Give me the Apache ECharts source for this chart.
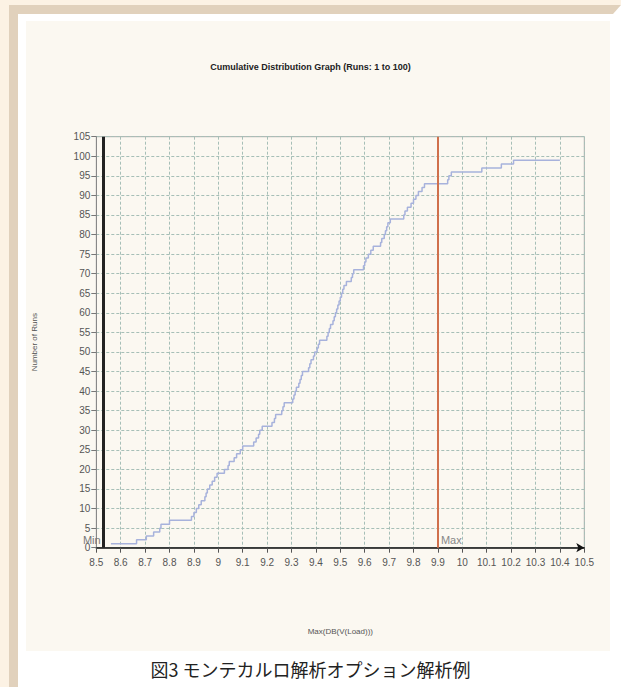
<!DOCTYPE html>
<html>
<head>
<meta charset="utf-8">
<script src="https://cdn.jsdelivr.net/npm/echarts@6/dist/echarts.min.js"></script>
<style>
  html, body { margin: 0; padding: 0; background: #ffffff; }
  #page { position: relative; width: 621px; height: 687px; overflow: hidden; }
  .cream-top { position: absolute; left: 0; top: 0; width: 621px; height: 5px; background: #fcf2e4; }
  .cream-left { position: absolute; left: 0; top: 0; width: 9px; height: 687px; background: #fcf2e4; }
  .band-top { position: absolute; left: 9px; top: 5px; width: 612px; height: 9px; background: #e1d1bc;
              clip-path: polygon(0 0, 100% 0, calc(100% - 8px) 100%, 0 100%); }
  .band-left { position: absolute; left: 9px; top: 5px; width: 9px; height: 682px; background: #e1d1bc; }
  .panel { position: absolute; left: 26px; top: 21px; width: 584px; height: 630px; background: #fbf8f1; }
  #chart { position: absolute; left: 0; top: 0; width: 621px; height: 687px; }
</style>
</head>
<body>
<div id="page">
  <div class="cream-top"></div>
  <div class="cream-left"></div>
  <div class="band-top"></div>
  <div class="band-left"></div>
  <div class="panel"></div>
  <div id="chart"></div>
</div>
<script>
// step points of the cumulative curve: value where the count jumps, count after the jump
var runValues = [
  8.56, 8.665, 8.705, 8.735, 8.76, 8.765, 8.80, 8.89, 8.90, 8.91,
  8.92, 8.93, 8.945, 8.95, 8.955, 8.965, 8.975, 8.985, 8.995, 9.025,
  9.04, 9.045, 9.065, 9.075, 9.09, 9.10, 9.145, 9.155, 9.165, 9.17,
  9.18, 9.22, 9.23, 9.235, 9.26, 9.265, 9.27, 9.305, 9.31, 9.315,
  9.32, 9.33, 9.335, 9.34, 9.345, 9.37, 9.375, 9.38, 9.39, 9.395,
  9.405, 9.41, 9.415, 9.445, 9.45, 9.455, 9.46, 9.47, 9.475, 9.48,
  9.485, 9.49, 9.495, 9.50, 9.505, 9.51, 9.515, 9.525, 9.545, 9.55,
  9.555, 9.595, 9.60, 9.605, 9.615, 9.625, 9.635, 9.665, 9.67, 9.68,
  9.685, 9.69, 9.695, 9.705, 9.76, 9.765, 9.775, 9.79, 9.80, 9.81,
  9.82, 9.835, 9.845, 9.94, 9.945, 9.955, 10.08, 10.16, 10.21, 10.40
];
var runCounts = [
  1, 2, 3, 4, 5, 6, 7, 8, 9, 10,
  11, 12, 13, 14, 15, 16, 17, 18, 19, 20,
  21, 22, 23, 24, 25, 26, 27, 28, 29, 30,
  31, 32, 33, 34, 35, 36, 37, 38, 39, 40,
  41, 42, 43, 44, 45, 46, 47, 48, 49, 50,
  51, 52, 53, 54, 55, 56, 57, 58, 59, 60,
  61, 62, 63, 64, 65, 66, 67, 68, 69, 70,
  71, 72, 73, 74, 75, 76, 77, 78, 79, 80,
  81, 82, 83, 84, 85, 86, 87, 88, 89, 90,
  91, 92, 93, 94, 95, 96, 97, 98, 99, 99
];
var minValue = 8.53;
var maxValue = 9.9;
var xRange = [8.5, 10.5];
var yRange = [0, 105];

var chart = echarts.init(document.getElementById('chart'), null, { renderer: 'svg' });

var curve = runValues.map(function (v, i) { return [v, runCounts[i]]; });

var option = {
    animation: false,
    backgroundColor: 'transparent',
    title: [{
        text: 'Cumulative Distribution Graph (Runs: 1 to 100)',
        left: 'center',
        top: 57,
        textStyle: { fontFamily: 'Liberation Sans', fontSize: 9, fontWeight: 'bold', color: '#222' }
    }, {
        text: '図3 モンテカルロ解析オプション解析例',
        left: 'center',
        top: 655,
        textStyle: { fontFamily: 'Noto Sans CJK JP', fontSize: 18, fontWeight: 'normal', color: '#222' }
    }],
    grid: {
        left: 96.3, right: 36.7, top: 136.7, bottom: 139.3,
        show: true, borderColor: '#a8a8a8', borderWidth: 1, backgroundColor: 'transparent'
    },
    xAxis: {
        type: 'value',
        min: xRange[0], max: xRange[1], interval: 0.1,
        name: 'Max(DB(V(Load)))',
        nameLocation: 'middle', nameGap: 80,
        nameTextStyle: { fontFamily: 'Liberation Sans', fontSize: 8, color: '#555' },
        axisLine: { lineStyle: { color: '#111', width: 1.5 }, symbol: ['none', 'arrow'], symbolSize: [7, 8] },
        axisTick: { length: 5, lineStyle: { color: '#555' } },
        axisLabel: {
            fontFamily: 'Liberation Sans', fontSize: 10, color: '#555', margin: 10,
            formatter: function (v) { return String(+v.toFixed(1)); }
        },
        splitLine: { lineStyle: { color: '#a6bfb7', type: [3, 2], width: 1 } }
    },
    yAxis: {
        type: 'value',
        min: yRange[0], max: yRange[1], interval: 5,
        name: 'Number of Runs',
        nameLocation: 'middle', nameGap: 58, nameRotate: 90,
        nameTextStyle: { fontFamily: 'Liberation Sans', fontSize: 8, color: '#555' },
        axisLine: { lineStyle: { color: '#888', width: 1 } },
        axisTick: { length: 5, lineStyle: { color: '#777' } },
        axisLabel: { fontFamily: 'Liberation Sans', fontSize: 10, color: '#555', margin: 6 },
        splitLine: { lineStyle: { color: '#a6bfb7', type: [3, 2], width: 1 } }
    },
    series: [{
        type: 'line',
        step: 'end',
        data: curve,
        symbol: 'none',
        lineStyle: { color: '#a7b2dc', width: 1.5 },
        markLine: {
            silent: true,
            symbol: 'none',
            label: { show: false },
            data: [
                { xAxis: minValue, lineStyle: { color: '#222', width: 3, type: 'solid' } },
                { xAxis: maxValue, lineStyle: { color: '#d0704c', width: 2, type: 'solid' } }
            ]
        },
        markPoint: {
            silent: true,
            symbol: 'rect',
            symbolSize: 0,
            data: [
                { coord: [minValue, 0], label: { show: true, formatter: 'Min', position: 'left', distance: 3, offset: [0, -8],
                    fontFamily: 'Liberation Sans', fontSize: 11, color: '#777' } },
                { coord: [maxValue, 0], label: { show: true, formatter: 'Max', position: 'right', distance: 3, offset: [0, -8],
                    fontFamily: 'Liberation Sans', fontSize: 11, color: '#888' } }
            ]
        }
    }]
};

chart.setOption(option);
</script>
</body>
</html>
